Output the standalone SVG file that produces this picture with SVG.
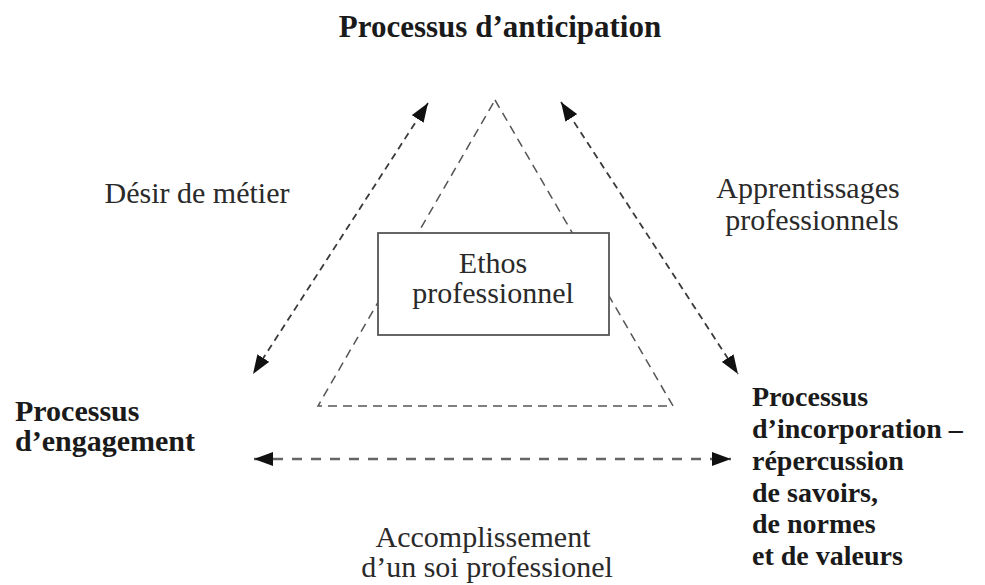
<svg xmlns="http://www.w3.org/2000/svg" width="985" height="585" viewBox="0 0 985 585">
  <style>
    .t { font-family: "Liberation Serif", "DejaVu Serif", serif; font-size: 30px; fill: #2a2a2a; }
    .b { font-weight: bold; fill: #1a1a1a; }
    .r { font-size: 28px; }
    .dash { fill: none; stroke: #3a3a3a; stroke-width: 1.8; stroke-dasharray: 7 5; }
    .hdash { stroke: #666; stroke-width: 2.4; stroke-dasharray: 10 9; }
    .tri { fill: none; stroke: #555; stroke-width: 1.5; stroke-dasharray: 9 6; }
    .box { fill: #fff; stroke: #555; stroke-width: 1.8; }
  </style>
  <defs>
    <marker id="ah" viewBox="0 0 10 10" refX="10" refY="5" markerWidth="19" markerHeight="14" markerUnits="userSpaceOnUse" orient="auto-start-reverse" preserveAspectRatio="none">
      <path d="M0,0 L10,5 L0,10 Z" fill="#111"/>
    </marker>
  </defs>

  <!-- inner dashed triangle -->
  <g id="triangle">
    <polygon class="tri" points="495,100 673,406 318,406"/>
  </g>

  <!-- connectors between the three processes -->
  <g id="connectors">
    <line class="dash" x1="428" y1="103" x2="253" y2="374" marker-start="url(#ah)" marker-end="url(#ah)"/>
    <line class="dash" x1="561" y1="102" x2="738" y2="374" marker-start="url(#ah)" marker-end="url(#ah)"/>
    <line class="dash hdash" x1="254" y1="459" x2="731" y2="459" marker-start="url(#ah)" marker-end="url(#ah)"/>
  </g>

  <g id="ethos">
    <rect class="box" x="378" y="233" width="231" height="102"/>
    <text class="t" x="493" y="273" text-anchor="middle">Ethos</text>
    <text class="t" x="493" y="303" text-anchor="middle">professionnel</text>
  </g>

  <g id="anticipation">
    <text class="t b" x="500" y="37" text-anchor="middle" style="font-size:31px">Processus d’anticipation</text>
  </g>

  <g id="engagement">
    <text class="t b" x="15" y="421">Processus</text>
    <text class="t b" x="15" y="451">d’engagement</text>
  </g>

  <g id="incorporation">
    <text class="t b r" x="752" y="406">Processus</text>
    <text class="t b r" x="752" y="438">d’incorporation –</text>
    <text class="t b r" x="752" y="470">répercussion</text>
    <text class="t b r" x="752" y="502">de savoirs,</text>
    <text class="t b r" x="752" y="533">de normes</text>
    <text class="t b r" x="752" y="565">et de valeurs</text>
  </g>

  <g id="labels">
    <text class="t" x="197" y="203" text-anchor="middle">Désir de métier</text>
    <text class="t" x="808" y="198" text-anchor="middle">Apprentissages</text>
    <text class="t" x="812" y="230" text-anchor="middle">professionnels</text>
    <text class="t" x="483" y="547" text-anchor="middle">Accomplissement</text>
    <text class="t" x="487" y="577" text-anchor="middle">d’un soi professionel</text>
  </g>
</svg>
